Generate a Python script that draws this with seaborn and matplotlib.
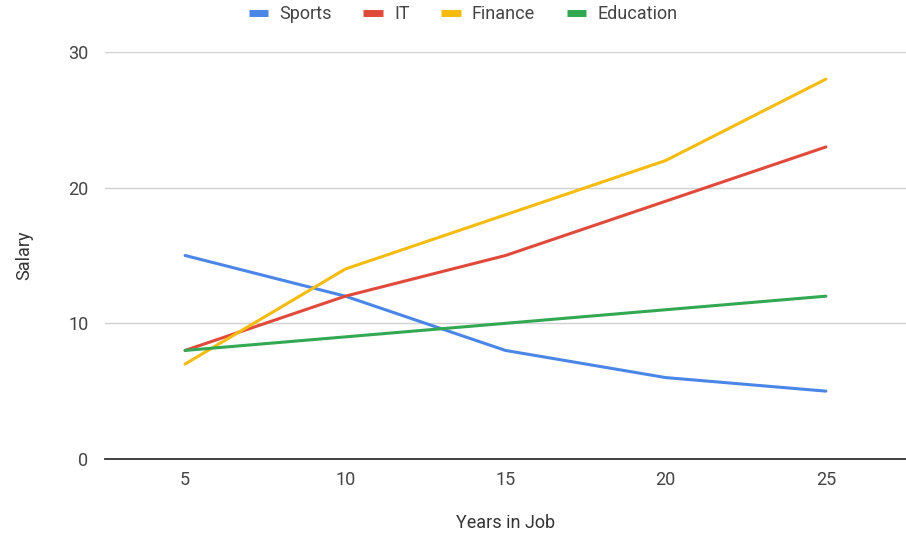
import matplotlib
matplotlib.use("Agg")
import matplotlib.pyplot as plt
import seaborn as sns
import pandas as pd

years = [5, 10, 15, 20, 25]
sports = [15, 12, 8, 6, 5]
it = [8, 12, 15, 19, 23]
finance = [7, 14, 18, 22, 28]
education = [8, 9, 10, 11, 12]
series_names = ["Sports", "IT", "Finance", "Education"]
colors = ["#4a86e8", "#e04a3a", "#f5bb0f", "#33a852"]

df = pd.DataFrame({"Years in Job": years, "Sports": sports, "IT": it,
                   "Finance": finance, "Education": education})
long = df.melt(id_vars="Years in Job", var_name="Field", value_name="Salary")

sns.set_theme(style="white")
plt.rcParams["font.family"] = ["Roboto", "DejaVu Sans"]
fs = 13

fig = plt.figure(figsize=(9.06, 5.37), dpi=100)
ax = fig.add_axes([0.1159, 0.1453, 0.8841, 0.7579])

sns.lineplot(data=long, x="Years in Job", y="Salary", hue="Field",
             hue_order=series_names, palette=colors, linewidth=2.2, ax=ax,
             legend=False)

ax.set_xlim(2.5, 27.5)
ax.set_ylim(0, 30)
ax.set_xticks(years)
ax.set_yticks([0, 10, 20, 30])
ax.yaxis.grid(True, color="#d0d0d0", linewidth=1)
ax.set_axisbelow(True)
for s in ["top", "right", "left"]:
    ax.spines[s].set_visible(False)
ax.spines["bottom"].set_color("#333333")
ax.spines["bottom"].set_linewidth(1.3)
ax.tick_params(axis="both", length=0, labelsize=fs, labelcolor="#444444")
ax.tick_params(axis="x", pad=9)
ax.tick_params(axis="y", pad=12)
ax.set_xlabel("Years in Job", fontsize=fs, color="#333333")
ax.set_ylabel("Salary", fontsize=fs, color="#333333")
ax.xaxis.label.set_va("center")
ax.yaxis.label.set_va("center")
ax.xaxis.set_label_coords(0.5, -(523 - 459) / 407)
ax.yaxis.set_label_coords(-(105 - 24) / 801, 0.5)

handles = [plt.Line2D([0], [0], color=c, linewidth=5, solid_capstyle="butt")
           for c in colors]
fig.legend(handles, series_names, loc="center", bbox_to_anchor=(463 / 906, 1 - 14 / 537),
           ncol=4, frameon=False, fontsize=fs, handlelength=1.1,
           columnspacing=1.75, handletextpad=0.6, labelcolor="#444444",
           borderpad=0)

fig.savefig("out.png", dpi=100, facecolor="white")
